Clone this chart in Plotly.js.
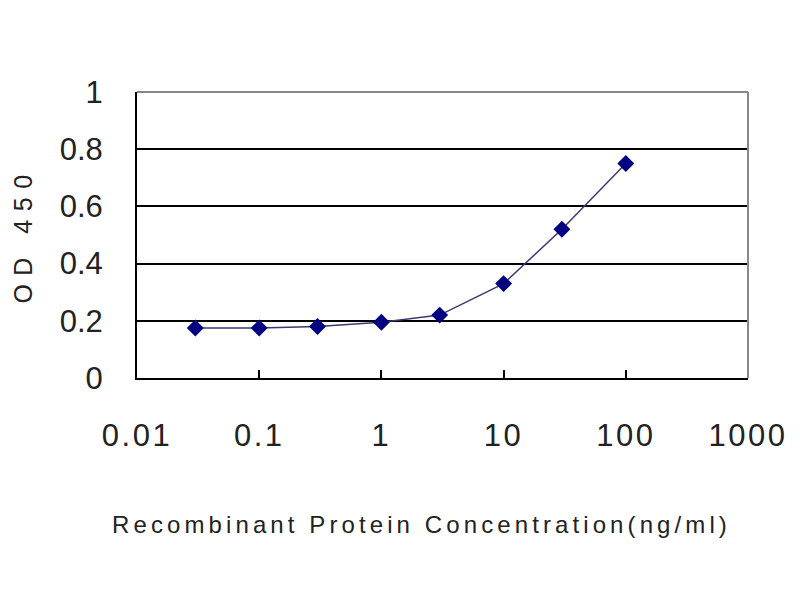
<!DOCTYPE html>
<html>
<head>
<meta charset="utf-8">
<script src="https://cdn.plot.ly/plotly-3.0.1.min.js"></script>
<style>
  html, body { margin: 0; padding: 0; background: #fff; }
  #chart { width: 800px; height: 600px; }
  .xtitle { letter-spacing: 4.1px; transform: translate(-21px, 0px); }
  .ytitle { letter-spacing: 8.5px; }
  .xtick text { letter-spacing: 2.5px; }
</style>
</head>
<body>
<div id="chart"></div>
<script>
const concentration = [0.03, 0.1, 0.3, 1, 3, 10, 30, 100];
const od450 = [0.175, 0.175, 0.18, 0.195, 0.22, 0.33, 0.52, 0.75];
const xTickVals = [0.01, 0.1, 1, 10, 100, 1000];
const xTickText = ['0.01', '0.1', '1', '10', '100', '1000'];
const yTickVals = [0, 0.2, 0.4, 0.6, 0.8, 1];
const yTickText = ['0', '0.2', '0.4', '0.6', '0.8', '1'];

const trace = {
  x: concentration,
  y: od450,
  type: 'scatter',
  mode: 'lines+markers',
  line: { color: '#3a3a70', width: 1.5 },
  marker: { symbol: 'diamond', size: 13, color: '#000080' },
  hoverinfo: 'x+y'
};

const font = 'Arial, "Liberation Sans", sans-serif';

const layout = {
  width: 800, height: 600,
  paper_bgcolor: '#ffffff', plot_bgcolor: '#ffffff',
  margin: { l: 137, r: 52, t: 92, b: 222 },
  showlegend: false,
  xaxis: {
    type: 'log',
    range: [-2, 3],
    tickvals: xTickVals,
    ticktext: xTickText,
    ticks: 'inside', ticklen: 8, tickwidth: 2, tickcolor: '#000',
    ticklabelstandoff: 29,
    showgrid: false, zeroline: false,
    showline: true, linecolor: '#000', linewidth: 2,
    tickfont: { family: font, size: 31, color: '#222' },
    title: { text: 'Recombinant Protein Concentration(ng/ml)', font: { family: font, size: 24, color: '#222' }, standoff: 64 }
  },
  yaxis: {
    range: [0, 1],
    tickvals: yTickVals,
    ticktext: yTickText,
    ticks: '', ticklabelstandoff: 26,
    showgrid: true, gridcolor: '#000', gridwidth: 2,
    zeroline: false,
    showline: true, linecolor: '#000', linewidth: 2,
    tickfont: { family: font, size: 31, color: '#222' },
    title: { text: 'OD 450', font: { family: font, size: 25, color: '#222' }, standoff: 20 }
  },
  shapes: [
    { type: 'line', xref: 'paper', yref: 'paper', x0: 0, x1: 1, y0: 1, y1: 1, line: { color: '#888', width: 2 } },
    { type: 'line', xref: 'paper', yref: 'paper', x0: 1, x1: 1, y0: 0, y1: 1, line: { color: '#888', width: 2 } }
  ]
};

Plotly.newPlot('chart', [trace], layout, { displayModeBar: false, staticPlot: true });
</script>
</body>
</html>
